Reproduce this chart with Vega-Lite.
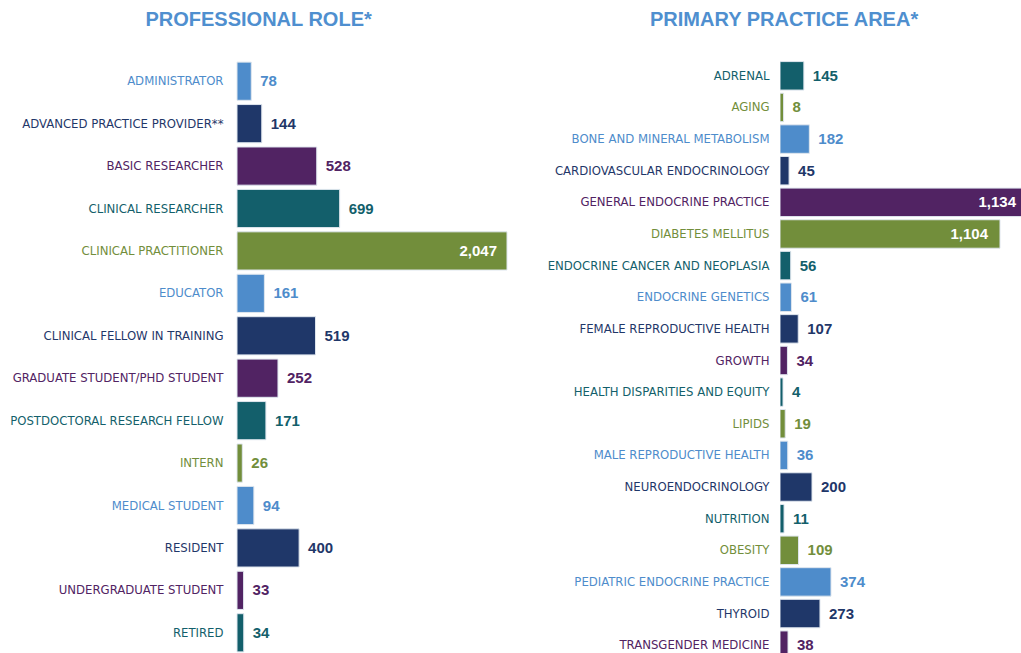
{
  "$schema": "https://vega.github.io/schema/vega-lite/v6.json",
  "background": "white",
  "padding": {"top": 10, "left": 9, "right": 0, "bottom": 0},
  "spacing": 39,
  "config": {
    "view": {"stroke": null},
    "title": {"font": "Liberation Sans", "fontSize": 20, "fontWeight": "bold", "color": "#4f8fcf", "anchor": "middle", "frame": "bounds", "offset": 30}
  },
  "datasets": {
    "roles": [
      {"role": "ADMINISTRATOR", "count": 78},
      {"role": "ADVANCED PRACTICE PROVIDER**", "count": 144},
      {"role": "BASIC RESEARCHER", "count": 528},
      {"role": "CLINICAL RESEARCHER", "count": 699},
      {"role": "CLINICAL PRACTITIONER", "count": 2047},
      {"role": "EDUCATOR", "count": 161},
      {"role": "CLINICAL FELLOW IN TRAINING", "count": 519},
      {"role": "GRADUATE STUDENT/PHD STUDENT", "count": 252},
      {"role": "POSTDOCTORAL RESEARCH FELLOW", "count": 171},
      {"role": "INTERN", "count": 26},
      {"role": "MEDICAL STUDENT", "count": 94},
      {"role": "RESIDENT", "count": 400},
      {"role": "UNDERGRADUATE STUDENT", "count": 33},
      {"role": "RETIRED", "count": 34}
    ],
    "areas": [
      {"area": "ADRENAL", "count": 145},
      {"area": "AGING", "count": 8},
      {"area": "BONE AND MINERAL METABOLISM", "count": 182},
      {"area": "CARDIOVASCULAR ENDOCRINOLOGY", "count": 45},
      {"area": "GENERAL ENDOCRINE PRACTICE", "count": 1134},
      {"area": "DIABETES MELLITUS", "count": 1104},
      {"area": "ENDOCRINE CANCER AND NEOPLASIA", "count": 56},
      {"area": "ENDOCRINE GENETICS", "count": 61},
      {"area": "FEMALE REPRODUCTIVE HEALTH", "count": 107},
      {"area": "GROWTH", "count": 34},
      {"area": "HEALTH DISPARITIES AND EQUITY", "count": 4},
      {"area": "LIPIDS", "count": 19},
      {"area": "MALE REPRODUCTIVE HEALTH", "count": 36},
      {"area": "NEUROENDOCRINOLOGY", "count": 200},
      {"area": "NUTRITION", "count": 11},
      {"area": "OBESITY", "count": 109},
      {"area": "PEDIATRIC ENDOCRINE PRACTICE", "count": 374},
      {"area": "THYROID", "count": 273},
      {"area": "TRANSGENDER MEDICINE", "count": 38}
    ]
  },
  "hconcat": [
    {
      "title": "PROFESSIONAL ROLE*",
      "width": 270,
      "height": 594,
      "data": {"name": "roles"},
      "encoding": {
        "y": {
          "field": "role", "type": "nominal", "sort": null,
          "scale": {"paddingInner": 0.1, "paddingOuter": 0.05},
          "axis": {
            "title": null, "domain": false, "ticks": false, "labelPadding": 14, "labelLimit": 300,
            "labelFont": "DejaVu Sans Condensed",
            "labelFontSize": 13,
            "labelColor": {
              "condition": [
                {"test": "indexof(['ADMINISTRATOR','EDUCATOR','MEDICAL STUDENT'], datum.value) >= 0", "value": "#4e8ccb"},
                {"test": "indexof(['ADVANCED PRACTICE PROVIDER**','CLINICAL FELLOW IN TRAINING','RESIDENT'], datum.value) >= 0", "value": "#1f3769"},
                {"test": "indexof(['BASIC RESEARCHER','GRADUATE STUDENT/PHD STUDENT','UNDERGRADUATE STUDENT'], datum.value) >= 0", "value": "#512363"},
                {"test": "indexof(['CLINICAL RESEARCHER','POSTDOCTORAL RESEARCH FELLOW','RETIRED'], datum.value) >= 0", "value": "#135f6b"}
              ],
              "value": "#728e3b"
            }
          }
        },
        "x": {"field": "count", "type": "quantitative", "axis": null, "scale": {"type": "pow", "exponent": 0.9, "domain": [0, 2047]}},
        "color": {
          "field": "role", "type": "nominal", "legend": null,
          "scale": {
            "domain": ["ADMINISTRATOR","ADVANCED PRACTICE PROVIDER**","BASIC RESEARCHER","CLINICAL RESEARCHER","CLINICAL PRACTITIONER","EDUCATOR","CLINICAL FELLOW IN TRAINING","GRADUATE STUDENT/PHD STUDENT","POSTDOCTORAL RESEARCH FELLOW","INTERN","MEDICAL STUDENT","RESIDENT","UNDERGRADUATE STUDENT","RETIRED"],
            "range": ["#4e8ccb","#1f3769","#512363","#135f6b","#728e3b","#4e8ccb","#1f3769","#512363","#135f6b","#728e3b","#4e8ccb","#1f3769","#512363","#135f6b"]
          }
        }
      },
      "layer": [
        {"mark": {"type": "bar", "stroke": "#dfe6ee", "strokeWidth": 1}},
        {
          "transform": [{"filter": "datum.count < 1000"}],
          "mark": {"type": "text", "align": "left", "baseline": "middle", "dx": 9, "font": "Liberation Sans", "fontSize": 15, "fontWeight": "bold"},
          "encoding": {"text": {"field": "count", "type": "quantitative", "format": ","}}
        },
        {
          "transform": [{"filter": "datum.count >= 1000"}],
          "mark": {"type": "text", "align": "right", "baseline": "middle", "dx": -10, "font": "Liberation Sans", "fontSize": 15, "fontWeight": "bold"},
          "encoding": {"text": {"field": "count", "type": "quantitative", "format": ","}, "color": {"value": "white"}}
        }
      ]
    },
    {
      "title": "PRIMARY PRACTICE AREA*",
      "width": 241,
      "height": 601,
      "data": {"name": "areas"},
      "encoding": {
        "y": {
          "field": "area", "type": "nominal", "sort": null,
          "scale": {"paddingInner": 0.1, "paddingOuter": 0.05},
          "axis": {
            "title": null, "domain": false, "ticks": false, "labelPadding": 11, "labelLimit": 300,
            "labelFont": "DejaVu Sans Condensed",
            "labelFontSize": 13,
            "labelColor": {
              "condition": [
                {"test": "indexof(['BONE AND MINERAL METABOLISM','ENDOCRINE GENETICS','MALE REPRODUCTIVE HEALTH','PEDIATRIC ENDOCRINE PRACTICE'], datum.value) >= 0", "value": "#4e8ccb"},
                {"test": "indexof(['CARDIOVASCULAR ENDOCRINOLOGY','FEMALE REPRODUCTIVE HEALTH','NEUROENDOCRINOLOGY','THYROID'], datum.value) >= 0", "value": "#1f3769"},
                {"test": "indexof(['GENERAL ENDOCRINE PRACTICE','GROWTH','TRANSGENDER MEDICINE'], datum.value) >= 0", "value": "#512363"},
                {"test": "indexof(['ADRENAL','ENDOCRINE CANCER AND NEOPLASIA','HEALTH DISPARITIES AND EQUITY','NUTRITION'], datum.value) >= 0", "value": "#135f6b"}
              ],
              "value": "#728e3b"
            }
          }
        },
        "x": {"field": "count", "type": "quantitative", "axis": null, "scale": {"type": "linear", "domain": [0, 4, 200, 374, 1104, 1134], "range": [0, 3, 32, 51, 220, 248]}},
        "color": {
          "field": "area", "type": "nominal", "legend": null,
          "scale": {
            "domain": ["ADRENAL","AGING","BONE AND MINERAL METABOLISM","CARDIOVASCULAR ENDOCRINOLOGY","GENERAL ENDOCRINE PRACTICE","DIABETES MELLITUS","ENDOCRINE CANCER AND NEOPLASIA","ENDOCRINE GENETICS","FEMALE REPRODUCTIVE HEALTH","GROWTH","HEALTH DISPARITIES AND EQUITY","LIPIDS","MALE REPRODUCTIVE HEALTH","NEUROENDOCRINOLOGY","NUTRITION","OBESITY","PEDIATRIC ENDOCRINE PRACTICE","THYROID","TRANSGENDER MEDICINE"],
            "range": ["#135f6b","#728e3b","#4e8ccb","#1f3769","#512363","#728e3b","#135f6b","#4e8ccb","#1f3769","#512363","#135f6b","#728e3b","#4e8ccb","#1f3769","#135f6b","#728e3b","#4e8ccb","#1f3769","#512363"]
          }
        }
      },
      "layer": [
        {"mark": {"type": "bar", "stroke": "#dfe6ee", "strokeWidth": 1, "clip": true}},
        {
          "transform": [{"filter": "datum.count < 1000"}],
          "mark": {"type": "text", "align": "left", "baseline": "middle", "dx": 9, "font": "Liberation Sans", "fontSize": 15, "fontWeight": "bold"},
          "encoding": {"text": {"field": "count", "type": "quantitative", "format": ","}}
        },
        {
          "transform": [{"filter": "datum.count >= 1000"}],
          "mark": {"type": "text", "align": "right", "baseline": "middle", "dx": -12, "font": "Liberation Sans", "fontSize": 15, "fontWeight": "bold", "clip": true},
          "encoding": {"text": {"field": "count", "type": "quantitative", "format": ","}, "color": {"value": "white"}}
        }
      ]
    }
  ],
  "resolve": {"scale": {"color": "independent", "y": "independent", "x": "independent"}}
}
